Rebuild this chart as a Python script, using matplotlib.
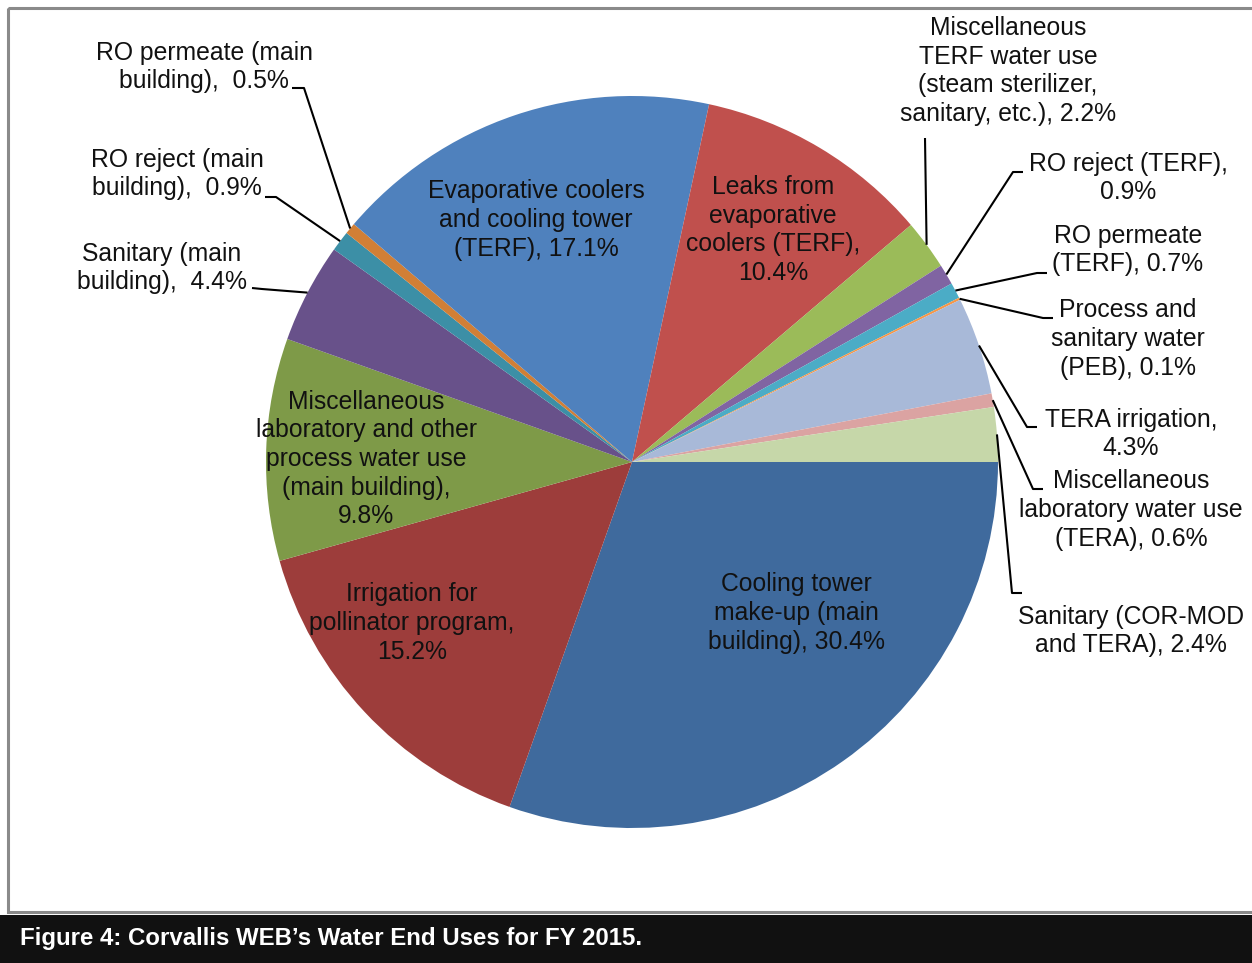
import numpy as np
import matplotlib.pyplot as plt
from matplotlib.patches import Rectangle

# slices in drawing order, clockwise from 3 o'clock
labels = [
    "Cooling tower\nmake-up (main\nbuilding), {}",
    "Irrigation for\npollinator program,\n{}",
    "Miscellaneous\nlaboratory and other\nprocess water use\n(main building),\n{}",
    "Sanitary (main\nbuilding),  {}",
    "RO reject (main\nbuilding),  {}",
    "RO permeate (main\nbuilding),  {}",
    "Evaporative coolers\nand cooling tower\n(TERF), {}",
    "Leaks from\nevaporative\ncoolers (TERF),\n{}",
    "Miscellaneous\nTERF water use\n(steam sterilizer,\nsanitary, etc.), {}",
    "RO reject (TERF),\n{}",
    "RO permeate\n(TERF), {}",
    "Process and\nsanitary water\n(PEB), {}",
    "TERA irrigation,\n{}",
    "Miscellaneous\nlaboratory water use\n(TERA), {}",
    "Sanitary (COR-MOD\nand TERA), {}",
]
shares = [30.4, 15.2, 9.8, 4.4, 0.9, 0.5, 17.1, 10.4, 2.2, 0.9, 0.7, 0.1, 4.3, 0.6, 2.4]
colors = ['#3f6a9d', '#9d3d3b', '#7e9a48', '#68518a', '#3c8fa6', '#d17f36',
          '#4f81bd', '#c0504d', '#9bbb59', '#8064a2', '#4bacc6', '#f79646',
          '#a8b9d8', '#dba3a2', '#c6d7a9']

# layout in picture pixels (y down): label centres and leader elbows
label_pos = [(796, 613), (412, 623), (366, 459), (162, 268), (177, 174), (204, 67),
             (536, 220), (773, 230), (1008, 71), (1128, 178), (1128, 250), (1128, 339),
             (1131, 434), (1131, 510), (1131, 631)]
leaders = {
    3: [(252, 288), (262, 289)],
    4: [(265, 197), (276, 197)],
    5: [(292, 88), (304, 88)],
    8: [(925, 138)],
    9: [(1023, 172), (1013, 172)],
    10: [(1047, 273), (1037, 273)],
    11: [(1053, 318), (1043, 318)],
    12: [(1037, 427), (1027, 427)],
    13: [(1043, 489), (1033, 489)],
    14: [(1022, 593), (1012, 593)],
}

W, H = 1252, 963
fig = plt.figure(figsize=(W / 100, H / 100), dpi=100)
ax = fig.add_axes([0, 0, 1, 1])

cx, cy, r = 632, 462, 366
# y axis points down, so counterclock=True runs clockwise on screen
wedges, _ = ax.pie(shares, colors=colors, startangle=0, counterclock=True,
                   center=(cx, cy), radius=r, wedgeprops=dict(linewidth=0))
ax.set_xlim(0, W)
ax.set_ylim(H, 0)
ax.set_aspect('auto')
ax.axis('off')

font = ['Liberation Sans', 'DejaVu Sans']
for i, w in enumerate(wedges):
    txt = labels[i].format(f"{shares[i]:.1f}%")
    x, y = label_pos[i]
    ax.text(x, y, txt, ha='center', va='center', multialignment='center',
            fontsize=17.8, family=font, color='#111111', linespacing=1.24)
    if i in leaders:
        mid = np.deg2rad((w.theta1 + w.theta2) / 2)
        pts = leaders[i] + [(cx + r * np.cos(mid), cy + r * np.sin(mid))]
        xs, ys = zip(*pts)
        ax.plot(xs, ys, color='black', lw=1.5, solid_capstyle='butt')

# chart frame and caption bar
ax.add_patch(Rectangle((8, 8), W, 904, fill=False, edgecolor='#8a8a8a', lw=2.2))
ax.add_patch(Rectangle((0, 915), W, 48, facecolor='#111111', edgecolor='none'))
ax.text(20, 939, "Figure 4: Corvallis WEB\u2019s Water End Uses for FY 2015.",
        ha='left', va='center', color='white', fontsize=17.3, fontweight='bold',
        family=['Liberation Sans Narrow', 'Liberation Sans'])

plt.savefig('out.png', dpi=100)
